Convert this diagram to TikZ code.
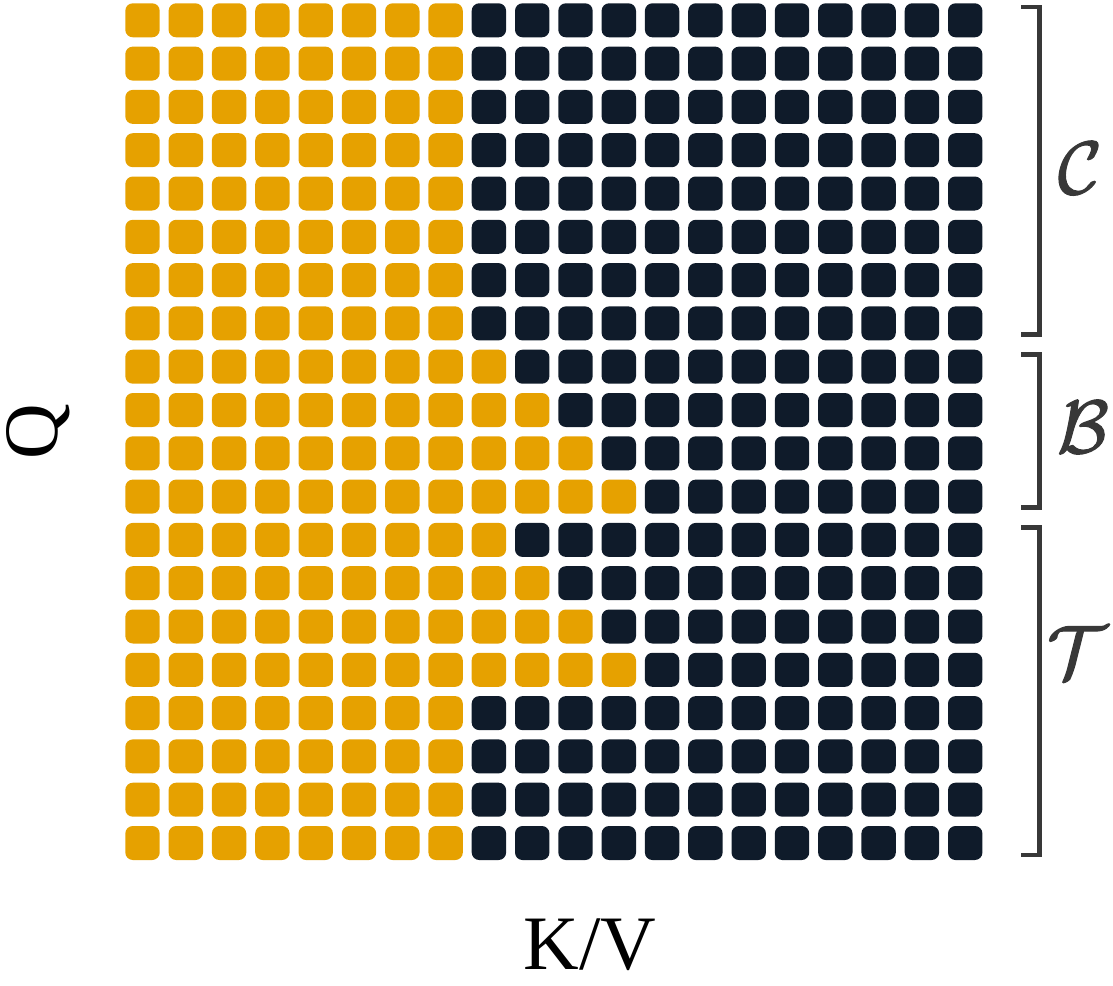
\documentclass[tikz,border=0pt]{standalone}
\usepackage{fix-cm}
\usepackage{fontspec}
\setmainfont{Liberation Serif}
\definecolor{gold}{HTML}{E6A100}
\definecolor{navy}{HTML}{0F1B2A}
\definecolor{brk}{HTML}{383838}
\newcommand{\heavytext}[1]{\special{pdf:code q 2 Tr 1.2 w}#1\special{pdf:code 0 Tr Q}}
\begin{document}
\begin{tikzpicture}[x=1pt,y=-1pt,
  cell/.style={rounded corners=7.5pt},
  bracket/.style={draw=brk,line width=4.5pt},
  lbl/.style={font=\fontsize{77}{80}\selectfont,inner sep=0pt},
  mlbl/.style={text=brk,font=\fontsize{75}{80}\selectfont,inner sep=0pt}]
\useasboundingbox (0,0) rectangle (1113,985);
% grid: row r (0..19), column c (0..19)
\foreach \r in {0,...,19}{
  \pgfmathtruncatemacro{\k}{\r<8 ? 8 : (\r<12 ? \r+1 : (\r<16 ? \r-3 : 8))}
  \foreach \c in {0,...,19}{
    \pgfmathsetmacro{\xx}{125.3+43.3*\c}
    \pgfmathsetmacro{\yy}{3.3+43.3*\r}
    \ifnum\c<\k
      \fill[gold,cell] (\xx,\yy) rectangle ++(34.4,34);
    \else
      \fill[navy,cell] (\xx,\yy) rectangle ++(34.4,34);
    \fi
  }
}
% brackets
\coordinate (c1) at (1021,7);
\coordinate (c2) at (1021,334.5);
\coordinate (b1) at (1021,354.5);
\coordinate (b2) at (1021,507.5);
\coordinate (t1) at (1021,527.5);
\coordinate (t2) at (1021,855);
\draw[bracket] (c1) -| (1039.7,334.5) -- (c2);
\draw[bracket] (b1) -| (1039.7,507.5) -- (b2);
\draw[bracket] (t1) -| (1039.7,855) -- (t2);
\node[mlbl] (lc) at (1080,168) {\heavytext{$\mathcal{C}$}};
\node[mlbl] (lb) at (1083,427) {\heavytext{$\mathcal{B}$}};
\node[mlbl] (lt) at (1077,652) {\heavytext{$\mathcal{T}$}};
\node[lbl,rotate=90] (q) at (38,432) {Q};
\node[lbl,anchor=base] (kv) at (590,969) {K/V};
\end{tikzpicture}
\end{document}
